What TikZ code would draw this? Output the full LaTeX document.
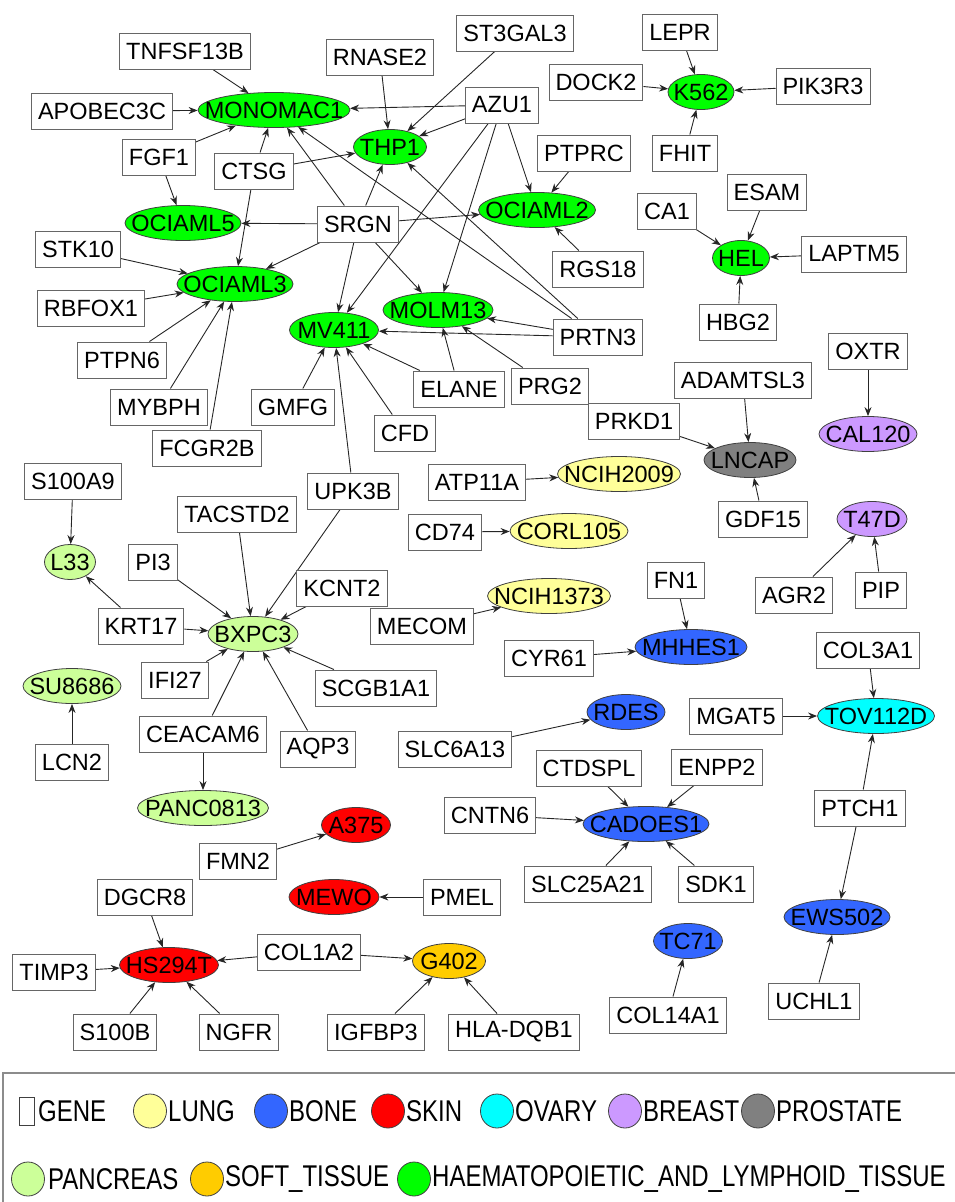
\documentclass[tikz,border=0pt]{standalone}
\usepackage{fontspec}
\setmainfont{Liberation Sans}
\newfontfamily\legfont[FakeStretch=0.8]{Liberation Sans}
\usetikzlibrary{arrows.meta,shapes.geometric,backgrounds}
\definecolor{haem}{RGB}{0,255,0}
\definecolor{panc}{RGB}{204,255,153}
\definecolor{lung}{RGB}{255,255,153}
\definecolor{bone}{RGB}{51,102,255}
\definecolor{skin}{RGB}{255,0,0}
\definecolor{ovary}{RGB}{0,255,255}
\definecolor{breast}{RGB}{204,153,255}
\definecolor{prostate}{RGB}{128,128,128}
\definecolor{soft}{RGB}{255,204,0}
\tikzset{
  gene/.style={rectangle, draw=black!60, line width=1pt, fill=white, minimum height=36, inner xsep=6.5, inner ysep=0, font=\fontsize{23.5}{26}\selectfont},
  cell/.style={ellipse, draw=black!75, line width=0.8pt, inner sep=0, minimum height=35, font=\fontsize{23.5}{26}\selectfont},
  edge/.style={draw=black!85, line width=0.9pt, -{Stealth[length=9,width=7]}},
  legtext/.style={anchor=west, inner sep=0, font=\legfont\fontsize{30}{31}\selectfont},
  legdot/.style={ellipse, draw=black!75, line width=0.8pt, inner sep=0, minimum width=33, minimum height=34},
}
\newcommand{\cellnode}[6]{\node[cell, fill=#5, minimum width=#4] (#1) at (#2,#3) {\makebox[0pt]{#6}};}
\begin{document}
\begin{tikzpicture}[x=1pt,y=-1pt]
\useasboundingbox (0,0) rectangle (955,1202);

% ---- cell lines ----
\cellnode{MONOMAC1}{274}{110}{152}{haem}{MONOMAC1}
\cellnode{THP1}{390}{147}{73}{haem}{THP1}
\cellnode{OCIAML5}{183}{223}{116}{haem}{OCIAML5}
\cellnode{OCIAML2}{537}{210}{117}{haem}{OCIAML2}
\cellnode{OCIAML3}{235}{284}{116}{haem}{OCIAML3}
\cellnode{MOLM13}{438}{310}{110}{haem}{MOLM13}
\cellnode{MV411}{334}{330}{89}{haem}{MV411}
\cellnode{K562}{701}{92}{66}{haem}{K562}
\cellnode{HEL}{741}{258}{57}{haem}{HEL}
\cellnode{LNCAP}{750}{460}{92}{prostate}{LNCAP}
\cellnode{CAL120}{868}{434}{98}{breast}{CAL120}
\cellnode{T47D}{872}{519}{70}{breast}{T47D}
\cellnode{NCIH2009}{619}{474}{123}{lung}{NCIH2009}
\cellnode{CORL105}{569}{531}{118}{lung}{CORL105}
\cellnode{NCIH1373}{549}{596}{123}{lung}{NCIH1373}
\cellnode{L33}{70}{562}{51}{panc}{L33}
\cellnode{BXPC3}{253}{634}{90}{panc}{BXPC3}
\cellnode{SU8686}{72}{686}{98}{panc}{SU8686}
\cellnode{PANC0813}{203}{808}{131}{panc}{PANC0813}
\cellnode{MHHES1}{691}{647}{112}{bone}{MHHES1}
\cellnode{RDES}{626}{712}{78}{bone}{RDES}
\cellnode{TOV112D}{876}{716}{117}{ovary}{TOV112D}
\cellnode{CADOES1}{646}{824}{126}{bone}{CADOES1}
\cellnode{A375}{356}{825}{69}{skin}{A375}
\cellnode{MEWO}{334}{897}{90}{skin}{MEWO}
\cellnode{HS294T}{169}{965}{99}{skin}{HS294T}
\cellnode{G402}{449}{961}{73}{soft}{G402}
\cellnode{EWS502}{837}{917}{106}{bone}{EWS502}
\cellnode{TC71}{688}{941}{69}{bone}{TC71}

% ---- genes ----
\node[gene] (TNFSF13B) at (185,51) {TNFSF13B};
\node[gene] (APOBEC3C) at (102,111) {APOBEC3C};
\node[gene] (FGF1) at (159,157) {FGF1};
\node[gene] (CTSG) at (254,171) {CTSG};
\node[gene] (STK10) at (78,249) {STK10};
\node[gene] (RBFOX1) at (91,308) {RBFOX1};
\node[gene] (PTPN6) at (122,360) {PTPN6};
\node[gene] (MYBPH) at (159,407) {MYBPH};
\node[gene] (FCGR2B) at (207,448) {FCGR2B};
\node[gene] (S100A9) at (73,481) {S100A9};
\node[gene] (TACSTD2) at (237,514) {TACSTD2};
\node[gene] (PI3) at (153,562) {PI3};
\node[gene] (RNASE2) at (380,57) {RNASE2};
\node[gene] (ST3GAL3) at (515,33) {ST3GAL3};
\node[gene] (AZU1) at (502,105) {AZU1};
\node[gene] (PTPRC) at (584,153) {PTPRC};
\node[gene] (DOCK2) at (596,82) {DOCK2};
\node[gene] (SRGN) at (358,224) {SRGN};
\node[gene] (RGS18) at (598,269) {RGS18};
\node[gene] (LEPR) at (680,32) {LEPR};
\node[gene] (PIK3R3) at (823,86) {PIK3R3};
\node[gene] (FHIT) at (685,153) {FHIT};
\node[gene] (ESAM) at (767,192) {ESAM};
\node[gene] (CA1) at (667,211) {CA1};
\node[gene] (LAPTM5) at (854,254) {LAPTM5};
\node[gene] (HBG2) at (738,322) {HBG2};
\node[gene] (OXTR) at (868,351) {OXTR};
\node[gene] (ADAMTSL3) at (743,380) {ADAMTSL3};
\node[gene] (PRKD1) at (634,421) {PRKD1};
\node[gene] (GDF15) at (763,519) {GDF15};
\node[gene] (PRTN3) at (598,337) {PRTN3};
\node[gene] (ELANE) at (459,389) {ELANE};
\node[gene] (PRG2) at (550,386) {PRG2};
\node[gene] (GMFG) at (293,407) {GMFG};
\node[gene] (CFD) at (405,433) {CFD};
\node[gene] (UPK3B) at (353,491) {UPK3B};
\node[gene] (ATP11A) at (477,482) {ATP11A};
\node[gene] (CD74) at (445,532) {CD74};
\node[gene] (KRT17) at (141,626) {KRT17};
\node[gene] (IFI27) at (175,680) {IFI27};
\node[gene] (CEACAM6) at (203,734) {CEACAM6};
\node[gene] (LCN2) at (72,762) {LCN2};
\node[gene] (AQP3) at (318,749) {AQP3};
\node[gene] (KCNT2) at (342,588) {KCNT2};
\node[gene] (SCGB1A1) at (376,688) {SCGB1A1};
\node[gene] (MECOM) at (422,626) {MECOM};
\node[gene] (CYR61) at (549,658) {CYR61};
\node[gene] (SLC6A13) at (455,749) {SLC6A13};
\node[gene] (CNTN6) at (490,815) {CNTN6};
\node[gene] (CTDSPL) at (589,768) {CTDSPL};
\node[gene] (FN1) at (676,580) {FN1};
\node[gene] (AGR2) at (794,595) {AGR2};
\node[gene] (PIP) at (881,590) {PIP};
\node[gene] (COL3A1) at (868,650) {COL3A1};
\node[gene] (MGAT5) at (736,716) {MGAT5};
\node[gene] (ENPP2) at (717,767) {ENPP2};
\node[gene] (PTCH1) at (860,808) {PTCH1};
\node[gene] (FMN2) at (238,861) {FMN2};
\node[gene] (DGCR8) at (145,897) {DGCR8};
\node[gene] (PMEL) at (462,897) {PMEL};
\node[gene] (COL1A2) at (309,952) {COL1A2};
\node[gene] (TIMP3) at (54,972) {TIMP3};
\node[gene] (S100B) at (115,1032) {S100B};
\node[gene] (NGFR) at (239,1032) {NGFR};
\node[gene] (IGFBP3) at (376,1032) {IGFBP3};
\node[gene] (HLADQB1) at (514,1032) {HLA-DQB1};
\node[gene] (SLC25A21) at (588,884) {SLC25A21};
\node[gene] (SDK1) at (716,884) {SDK1};
\node[gene] (COL14A1) at (668,1015) {COL14A1};
\node[gene] (UCHL1) at (814,1001) {UCHL1};

% ---- edges ----
\begin{pgfonlayer}{background}
\foreach \s/\t in {TNFSF13B/MONOMAC1, APOBEC3C/MONOMAC1, FGF1/MONOMAC1, FGF1/OCIAML5,
  CTSG/MONOMAC1, CTSG/THP1, CTSG/OCIAML3,
  SRGN/MONOMAC1, SRGN/THP1, SRGN/OCIAML5, SRGN/OCIAML2, SRGN/OCIAML3, SRGN/MV411, SRGN/MOLM13,
  RNASE2/THP1, ST3GAL3/THP1,
  AZU1/MONOMAC1, AZU1/THP1, AZU1/OCIAML2, AZU1/MOLM13, AZU1/MV411,
  PTPRC/OCIAML2, RGS18/OCIAML2,
  STK10/OCIAML3, RBFOX1/OCIAML3, PTPN6/OCIAML3, MYBPH/OCIAML3, FCGR2B/OCIAML3,
  PRTN3/MONOMAC1, PRTN3/THP1, PRTN3/MOLM13, PRTN3/MV411,
  ELANE/MV411, ELANE/MOLM13, PRG2/MOLM13, GMFG/MV411, CFD/MV411, UPK3B/MV411, UPK3B/BXPC3,
  DOCK2/K562, LEPR/K562, PIK3R3/K562, FHIT/K562,
  CA1/HEL, ESAM/HEL, LAPTM5/HEL, HBG2/HEL,
  OXTR/CAL120, ADAMTSL3/LNCAP, PRKD1/LNCAP, GDF15/LNCAP,
  AGR2/T47D, PIP/T47D,
  ATP11A/NCIH2009, CD74/CORL105, MECOM/NCIH1373,
  S100A9/L33, KRT17/L33,
  TACSTD2/BXPC3, PI3/BXPC3, KCNT2/BXPC3, KRT17/BXPC3, IFI27/BXPC3, CEACAM6/BXPC3, AQP3/BXPC3, SCGB1A1/BXPC3,
  LCN2/SU8686, CEACAM6/PANC0813,
  FN1/MHHES1, CYR61/MHHES1, SLC6A13/RDES,
  COL3A1/TOV112D, MGAT5/TOV112D, PTCH1/TOV112D, PTCH1/EWS502, UCHL1/EWS502,
  CTDSPL/CADOES1, ENPP2/CADOES1, CNTN6/CADOES1, SLC25A21/CADOES1, SDK1/CADOES1,
  COL14A1/TC71, FMN2/A375, PMEL/MEWO,
  DGCR8/HS294T, TIMP3/HS294T, S100B/HS294T, NGFR/HS294T, COL1A2/HS294T,
  COL1A2/G402, IGFBP3/G402, HLADQB1/G402}
  {\draw[edge] (\s) -- (\t);}
\end{pgfonlayer}

% ---- legend ----
\draw[draw=black!45, line width=1.5pt] (3,1073) rectangle (965,1215);
\node[rectangle, draw=black!75, line width=0.8pt, fill=white, inner sep=0, minimum width=15, minimum height=28] (lgene) at (27,1111) {};
\node[legtext] (tgene) at (38,1111) {GENE};
\node[legdot, fill=lung] (llung) at (150,1111) {};
\node[legtext] (tlung) at (168,1111) {LUNG};
\node[legdot, fill=bone] (lbone) at (271,1111) {};
\node[legtext] (tbone) at (289,1111) {BONE};
\node[legdot, fill=skin] (lskin) at (388,1111) {};
\node[legtext] (tskin) at (406,1111) {SKIN};
\node[legdot, fill=ovary] (lovary) at (497,1111) {};
\node[legtext] (tovary) at (515,1111) {OVARY};
\node[legdot, fill=breast] (lbreast) at (625,1111) {};
\node[legtext] (tbreast) at (643,1111) {BREAST};
\node[legdot, fill=prostate] (lprostate) at (758,1111) {};
\node[legtext] (tprostate) at (776,1111) {PROSTATE};
\node[legdot, fill=panc] (lpanc) at (28,1179) {};
\node[legtext] (tpanc) at (48,1179) {PANCREAS};
\node[legdot, fill=soft] (lsoft) at (207,1179) {};
\node[legtext] (tsoft) at (225,1179) {SOFT\_TISSUE};
\node[legdot, fill=haem] (lhaem) at (414,1179) {};
\node[legtext] (thaem) at (432,1179) {HAEMATOPOIETIC\_AND\_LYMPHOID\_TISSUE};
\end{tikzpicture}
\end{document}
